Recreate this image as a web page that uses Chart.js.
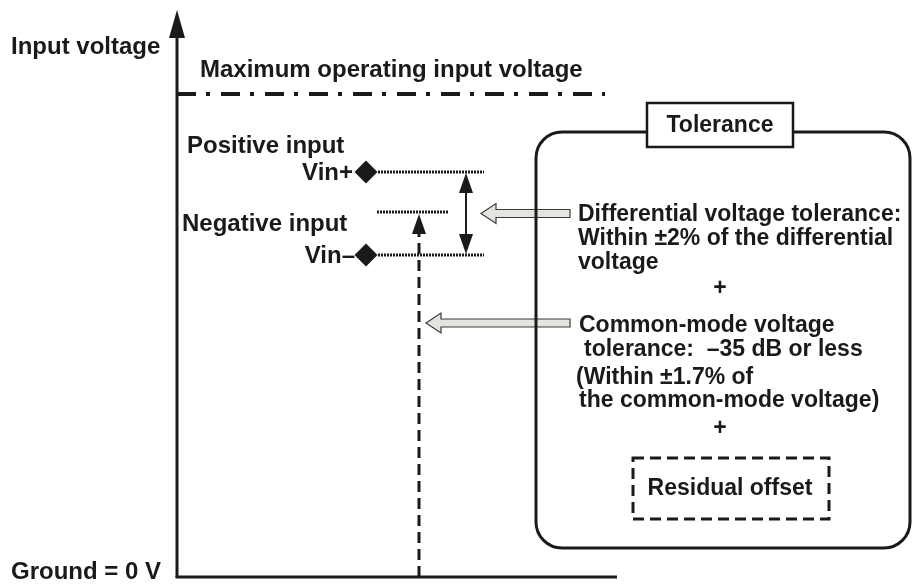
<!DOCTYPE html>
<html>
<head>
<meta charset="utf-8">
<script src="https://cdn.jsdelivr.net/npm/chart.js@4.4.1/dist/chart.umd.min.js"></script>
<style>
html, body { margin: 0; padding: 0; background: #fff; }
#wrap { width: 916px; height: 586px; }
</style>
</head>
<body>
<div id="wrap"><canvas id="diagram" width="916" height="586"></canvas></div>
<script>
// 전압 레벨 (ground = 0) ////////////////////////////////////////////
const levelNames = ['Ground = 0 V', 'Vin\u2013', 'Common mode', 'Vin+', 'Maximum operating input voltage'];
const levelValues = [0, 322, 365, 405, 483];
const axisTop = 567;

// 박스 안 텍스트
const diffLines = ['Differential voltage tolerance:', 'Within \u00b12% of the differential', 'voltage'];
const cmLines = ['Common-mode voltage', 'tolerance:  \u201335 dB or less', '(Within \u00b11.7% of', 'the common-mode voltage)'];
const residualLabel = 'Residual offset';
const boxTitle = 'Tolerance';

const [GND, VMINUS, VCM, VPLUS, VMAX] = levelValues;

// 레이아웃 (x 는 픽셀 그대로)
const AXIS_X = 177;
const INPUT_X = [378, 484];
const CM_X = [377, 449];
const DIAMOND_X = 366;
const DIFF_ARROW_X = 466;
const CM_ARROW_X = 419;

const FONT = 'bold 23px "Liberation Sans", Arial, sans-serif';
const FONT_L = 'bold 24px "Liberation Sans", Arial, sans-serif';
const INK = '#1a1a1a';

function seg(x0, y0, x1, y1) { return [{ x: x0, y: y0 }, { x: x1, y: y1 }]; }

const lineDs = (data, width, dash) => ({
    data: data,
    showLine: true,
    borderColor: INK,
    borderWidth: width,
    borderDash: dash || [],
    pointRadius: 0,
    clip: false
});

const datasets = [
    lineDs(seg(AXIS_X, GND, AXIS_X, axisTop - 26), 3),                 // 세로축
    lineDs(seg(AXIS_X - 1.5, GND, 617, GND), 3),                         // ground
    lineDs(seg(AXIS_X, VMAX, 605, VMAX), 4, [19, 10, 4, 11]),            // 최대 입력전압
    lineDs(seg(INPUT_X[0], VPLUS, INPUT_X[1], VPLUS), 3, [2, 1]),        // Vin+
    lineDs(seg(INPUT_X[0], VMINUS, INPUT_X[1], VMINUS), 3, [2, 1]),      // Vin-
    lineDs(seg(CM_X[0], VCM, CM_X[1], VCM), 3, [2, 1]),                  // common mode
    lineDs(seg(DIFF_ARROW_X, VPLUS - 18, DIFF_ARROW_X, VMINUS + 18), 2), // 차동 화살표 몸통
    lineDs(seg(CM_ARROW_X, GND, CM_ARROW_X, VCM - 22), 3, [11, 6]),      // 동상 점선
    {
        data: [{ x: DIAMOND_X, y: VPLUS }, { x: DIAMOND_X, y: VMINUS }],
        showLine: false,
        pointStyle: 'rectRot',
        pointRadius: 11.5,
        pointBackgroundColor: INK,
        pointBorderWidth: 0,
        clip: false
    }
];

const drawingPlugin = {
    id: 'drawing',
    afterDatasetsDraw(chart) {
        const ctx = chart.ctx;
        const X = v => chart.scales.x.getPixelForValue(v);
        const Y = v => chart.scales.y.getPixelForValue(v);

        // 삼각 화살촉
        function head(x, tipY, dir, len, hw) {
            ctx.beginPath();
            ctx.moveTo(x, tipY);
            ctx.lineTo(x - hw, tipY + dir * len);
            ctx.lineTo(x + hw, tipY + dir * len);
            ctx.closePath();
            ctx.fillStyle = INK;
            ctx.fill();
        }
        // 속이 빈 회색 화살표
        function hollow(tipX, y, tailX) {
            ctx.beginPath();
            ctx.moveTo(tipX, y);
            ctx.lineTo(tipX + 15, y - 10);
            ctx.lineTo(tipX + 15, y - 4);
            ctx.lineTo(tailX, y - 4);
            ctx.lineTo(tailX, y + 4);
            ctx.lineTo(tipX + 15, y + 4);
            ctx.lineTo(tipX + 15, y + 10);
            ctx.closePath();
            ctx.fillStyle = '#e2e6de';
            ctx.fill();
            ctx.strokeStyle = '#3a3a3a';
            ctx.lineWidth = 1.2;
            ctx.setLineDash([]);
            ctx.stroke();
        }

        ctx.save();
        head(X(AXIS_X), Y(axisTop), 1, 28, 8);
        head(X(DIFF_ARROW_X), Y(VPLUS) + 1, 1, 20, 7);
        head(X(DIFF_ARROW_X), Y(VMINUS) - 1, -1, 20, 7);
        head(X(CM_ARROW_X), Y(VCM) + 2, 1, 20, 7);

        hollow(X(DIFF_ARROW_X) + 15, Y((VPLUS + VMINUS) / 2), 570);
        hollow(X(CM_ARROW_X) + 7, 323, 570);

        // 둥근 박스
        ctx.strokeStyle = INK;
        ctx.lineWidth = 3;
        ctx.setLineDash([]);
        ctx.beginPath();
        ctx.roundRect(536, 132, 374, 416, 26);
        ctx.stroke();

        // Tolerance 라벨 박스
        ctx.fillStyle = '#fff';
        ctx.fillRect(647, 103, 146, 44);
        ctx.lineWidth = 2.5;
        ctx.strokeRect(647, 103, 146, 44);

        // Residual offset 점선 박스
        ctx.setLineDash([11, 6]);
        ctx.lineWidth = 3;
        ctx.strokeRect(633, 458, 196, 61);
        ctx.setLineDash([]);

        // 텍스트
        ctx.fillStyle = INK;
        ctx.font = FONT_L;
        ctx.textBaseline = 'middle';
        ctx.textAlign = 'left';
        ctx.fillText('Input voltage', 11, 47);
        ctx.fillText(levelNames[4], 200, 70);
        ctx.fillText('Positive input', 187, 146);
        ctx.fillText('Negative input', 182, 224);
        ctx.fillText(levelNames[0], 11, 572);
        ctx.textAlign = 'right';
        ctx.fillText(levelNames[3], 353, Y(VPLUS) + 1);
        ctx.fillText(levelNames[1], 355, Y(VMINUS) + 1);

        ctx.font = FONT;
        ctx.textAlign = 'left';
        diffLines.forEach((t, i) => ctx.fillText(t, 578, 215 + i * 24));
        const cmX = [579, 584, 576, 579];
        const cmY = [326, 350, 378, 401];
        cmLines.forEach((t, i) => ctx.fillText(t, cmX[i], cmY[i]));

        ctx.textAlign = 'center';
        ctx.fillText('+', 720, 289);
        ctx.fillText('+', 720, 429);
        ctx.fillText(residualLabel, 730, 489);
        ctx.fillText(boxTitle, 720, 126);
        ctx.restore();
    }
};

new Chart(document.getElementById('diagram'), {
    type: 'scatter',
    data: { datasets: datasets },
    options: {
        responsive: false,
        animation: false,
        layout: { padding: 0, autoPadding: false },
        plugins: { legend: { display: false }, tooltip: { enabled: false } },
        scales: {
            x: { type: 'linear', min: 0, max: 916, display: false },
            y: { type: 'linear', min: -9, max: 577, display: false }
        }
    },
    plugins: [drawingPlugin]
});
</script>
</body>
</html>
